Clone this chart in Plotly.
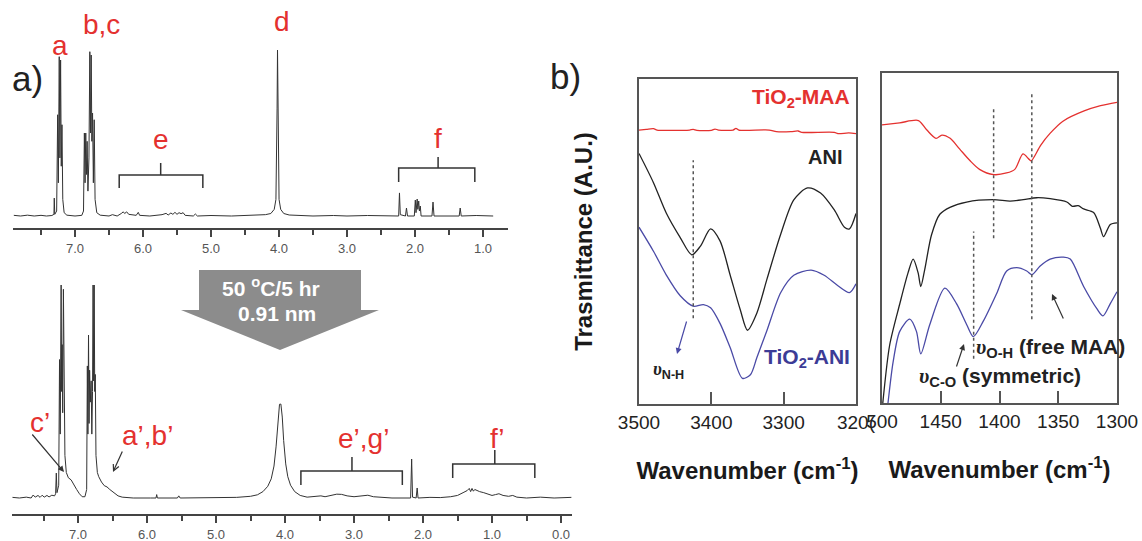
import plotly.graph_objects as go

W, H = 1142, 541
def fx(p): return p / W
def fy(p): return 1 - p / H

FONT = "Arial, Liberation Sans, sans-serif"
RED = "#e4312f"
BLUE = "#4a4aa6"
BLACK = "#222222"
UPS = "<span style=\"font-family:'Liberation Serif', 'DejaVu Serif', serif\"><i>υ</i></span>"

# ---------------- data: 1H NMR (top, before) ----------------
nmr_top_ppm = [7.90, 7.80, 7.70, 7.60, 7.50, 7.42, 7.34, 7.31, 7.305, 7.298, 7.27, 7.255, 7.245, 7.232, 7.222,
               7.212, 7.202, 7.192, 7.18, 7.16, 7.12, 7.00, 6.90,
               6.875, 6.862, 6.852, 6.842, 6.832, 6.822, 6.81, 6.795, 6.782, 6.772, 6.762, 6.752, 6.742, 6.73,
               6.718, 6.705, 6.68, 6.63,
               6.50, 6.45, 6.38, 6.32, 6.29, 6.27, 6.24, 6.21, 6.10, 6.07, 6.05, 5.90, 5.72, 5.66, 5.63, 5.59,
               5.56, 5.53, 5.50, 5.47, 5.44, 5.41, 5.38, 5.26, 5.23, 5.20, 5.00, 4.70, 4.40, 4.20, 4.12, 4.07,
               4.045, 4.035, 4.028, 4.022, 4.016, 4.009, 3.999, 3.975, 3.93, 3.85, 3.70, 3.50, 3.20, 3.00, 2.70,
               2.50, 2.35, 2.24, 2.228, 2.216, 2.14, 2.125, 2.11, 2.01, 1.995, 1.985, 1.968, 1.958, 1.945, 1.935,
               1.922, 1.91, 1.75, 1.735, 1.72, 1.35, 1.335, 1.32, 1.10, 0.85]
nmr_top_int = [0.004, 0.0, 0.005, 0.0, 0.004, 0.0, 0.003, 0.01, 0.108, 0.01, 0.03, 0.61, 0.2, 0.96, 0.35,
               0.94, 0.3, 0.55, 0.1, 0.02, 0.005, 0.0, 0.004,
               0.03, 0.5, 0.2, 0.5, 0.25, 0.45, 0.15, 0.35, 0.99, 0.5, 0.97, 0.45, 0.62, 0.2,
               0.58, 0.1, 0.02, 0.005,
               0.0, 0.008, 0.0, 0.015, 0.025, 0.015, 0.025, 0.01, 0.004, 0.022, 0.004, 0.0, 0.008, 0.016, 0.006, 0.018,
               0.01, 0.022, 0.01, 0.02, 0.014, 0.02, 0.004, 0.0, 0.012, 0.0, 0.003, 0.0, 0.005, 0.008, 0.015, 0.04,
               0.1, 0.3, 0.65, 1.0, 0.65, 0.3, 0.1, 0.04, 0.015, 0.006, 0.002, 0.0, 0.003, 0.0, 0.003,
               0.0, 0.002, 0.0, 0.139, 0.008, 0.0, 0.048, 0.0, 0.0, 0.096, 0.02, 0.102, 0.04, 0.09, 0.03,
               0.06, 0.0, 0.0, 0.084, 0.0, 0.0, 0.048, 0.0, 0.003, 0.0]

# ---------------- data: 1H NMR (bottom, after 50 C / 5 hr) ----------------
nmr_bot_ppm = [7.95, 7.85, 7.75, 7.68, 7.65, 7.62, 7.58, 7.55, 7.52, 7.49, 7.45, 7.42, 7.38, 7.34, 7.325, 7.315,
               7.305, 7.28, 7.268, 7.258, 7.245, 7.238, 7.23, 7.222, 7.212, 7.202, 7.19, 7.17, 7.14, 7.10, 7.06,
               7.02, 6.98, 6.94, 6.90, 6.875, 6.865, 6.857, 6.848, 6.84, 6.832, 6.822, 6.81, 6.80, 6.79, 6.782,
               6.774, 6.766, 6.758, 6.75, 6.74, 6.72, 6.70, 6.66, 6.62, 6.58, 6.54, 6.48, 6.42, 6.36, 6.20, 5.95,
               5.87, 5.86, 5.85, 5.56, 5.54, 5.52, 5.00, 4.70, 4.50, 4.40, 4.32, 4.25, 4.20, 4.16, 4.13, 4.10,
               4.08, 4.06, 4.04, 4.02, 3.99, 3.96, 3.92, 3.86, 3.78, 3.68, 3.55, 3.48, 3.42, 3.35, 3.25, 3.18,
               3.10, 3.00, 2.90, 2.80, 2.72, 2.60, 2.45, 2.18, 2.165, 2.152, 2.10, 2.085, 2.072, 1.90, 1.75, 1.60,
               1.50, 1.42, 1.36, 1.33, 1.31, 1.29, 1.27, 1.25, 1.22, 1.18, 1.12, 1.05, 1.00, 0.95, 0.90, 0.84,
               0.76, 0.70, 0.64, 0.50, 0.30, 0.10, -0.15]
nmr_bot_int = [0.003, 0.0, 0.004, 0.0, 0.014, 0.004, 0.012, 0.003, 0.013, 0.004, 0.012, 0.005, 0.013, 0.01, 0.02, 0.117,
               0.025, 0.06, 0.65, 0.3, 1.0, 0.5, 0.72, 0.4, 0.98, 0.35, 0.2, 0.12, 0.095, 0.085, 0.06,
               0.04, 0.02, 0.006, 0.006, 0.04, 0.62, 0.3, 0.765, 0.35, 0.6, 0.45, 0.55, 0.3, 0.5, 1.0,
               0.55, 1.0, 0.5, 0.58, 0.2, 0.12, 0.1, 0.075, 0.058, 0.052, 0.04, 0.023, 0.01, 0.004, 0.0, 0.0,
               0.0, 0.016, 0.0, 0.0, 0.01, 0.0, 0.0, 0.003, 0.008, 0.015, 0.03, 0.055, 0.09, 0.15, 0.24, 0.36,
               0.44, 0.441, 0.38, 0.27, 0.16, 0.1, 0.06, 0.03, 0.012, 0.004, 0.006, 0.01, 0.006, 0.01, 0.018, 0.017,
               0.01, 0.006, 0.01, 0.013, 0.006, 0.004, 0.0, 0.0, 0.183, 0.004, 0.0, 0.047, 0.0, 0.003, 0.002, 0.006,
               0.012, 0.025, 0.035, 0.045, 0.03, 0.045, 0.032, 0.04, 0.035, 0.03, 0.025, 0.018, 0.012, 0.016, 0.02, 0.012,
               0.008, 0.012, 0.004, 0.0, 0.004, 0.0, 0.003]

# ---------------- data: FTIR, N-H region ----------------
ir_nh_wn_maa = [3500, 3490, 3480, 3475, 3460, 3440, 3430, 3425, 3420, 3400, 3395, 3390, 3370, 3366, 3362,
                3320, 3310, 3290, 3280, 3275, 3230, 3225, 3210, 3200]
ir_nh_maa = [0.843, 0.845, 0.847, 0.843, 0.842, 0.842, 0.843, 0.845, 0.842, 0.842, 0.846, 0.843, 0.843, 0.848, 0.843,
             0.843, 0.838, 0.838, 0.840, 0.836, 0.836, 0.832, 0.834, 0.832]
ir_nh_wn = [3500, 3480, 3462, 3443, 3427, 3415, 3401, 3388, 3374, 3360, 3350, 3337, 3323, 3304, 3286, 3267,
            3249, 3230, 3216, 3209, 3200]
ir_nh_ani = [0.771, 0.681, 0.586, 0.512, 0.459, 0.486, 0.539, 0.502, 0.397, 0.290, 0.227, 0.280, 0.385, 0.523,
             0.628, 0.665, 0.649, 0.597, 0.544, 0.539, 0.586]
ir_nh_wn_tiani = [3500, 3480, 3462, 3443, 3425, 3411, 3401, 3388, 3374, 3357, 3346, 3337, 3323, 3304, 3286, 3262,
                  3244, 3225, 3209, 3200]
ir_nh_tiani = [0.544, 0.470, 0.396, 0.333, 0.301, 0.306, 0.296, 0.248, 0.174, 0.079, 0.090, 0.143, 0.227, 0.343,
               0.396, 0.412, 0.396, 0.364, 0.343, 0.370]

# ---------------- data: FTIR, C-O / O-H region ----------------
ir_co_wn_maa = [1500, 1485, 1469, 1462, 1454, 1449, 1442, 1434, 1425, 1417, 1405, 1394, 1387, 1380, 1375, 1373,
                1365, 1357, 1346, 1328, 1314, 1300]
ir_co_maa = [0.843, 0.849, 0.856, 0.828, 0.802, 0.812, 0.802, 0.770, 0.734, 0.708, 0.692, 0.697, 0.708, 0.755,
             0.739, 0.734, 0.781, 0.817, 0.854, 0.885, 0.901, 0.911]
ir_co_wn_ani = [1500.5, 1499.1, 1493.5, 1484.9, 1477.8, 1473.5, 1469.3, 1467.0, 1463.6, 1457.9, 1450.8, 1442.2,
                1428.0, 1405.3, 1391.0, 1379.7, 1368.3, 1356.9, 1342.7, 1338.0, 1333.0, 1328.4, 1319.9, 1314.2,
                1311.4, 1305.7, 1300]
ir_co_ani = [-0.05, 0.008, 0.175, 0.300, 0.395, 0.436, 0.395, 0.353, 0.405, 0.509, 0.572, 0.593,
             0.609, 0.616, 0.612, 0.616, 0.622, 0.619, 0.609, 0.596, 0.598, 0.588, 0.577, 0.530,
             0.504, 0.541, 0.546]
ir_co_wn_tiani = [1496.5, 1494.9, 1490.6, 1484.9, 1476.4, 1470.7, 1467.0, 1459.3, 1446.5, 1436.6, 1428.0, 1422.3,
                  1413.8, 1402.4, 1393.9, 1385.3, 1376.8, 1372.5, 1365.4, 1356.9, 1345.5, 1339.8, 1328.4, 1317.0,
                  1311.9, 1305.7, 1300]
ir_co_tiani = [-0.05, 0.0, 0.123, 0.217, 0.254, 0.217, 0.149, 0.238, 0.348, 0.301, 0.238, 0.201,
               0.248, 0.332, 0.400, 0.410, 0.400, 0.389, 0.415, 0.436, 0.442, 0.436, 0.353, 0.285,
               0.264, 0.301, 0.337]

# guide (dotted) lines: wavenumber, y from, y to
nh_guides = [(3425, 0.264, 0.75)]
co_guides = [(1405, 0.499, 0.89), (1372.5, 0.254, 0.939), (1422, 0.134, 0.52)]

# braces on NMR: (ppm left, ppm right, ppm centre, y bar, y ends, y tip)
top_braces = [(6.35, 5.12, 5.74, 0.247, 0.169, 0.319), (2.24, 1.12, 1.66, 0.289, 0.205, 0.355)]
bot_braces = [(3.77, 2.30, 3.03, 0.127, 0.061, 0.192), (1.57, 0.38, 0.96, 0.160, 0.094, 0.225)]

fig = go.Figure()

nmr_line = dict(color="#333333", width=1)
fig.add_trace(go.Scatter(x=nmr_top_ppm, y=nmr_top_int, mode="lines", line=nmr_line, xaxis="x", yaxis="y"))
fig.add_trace(go.Scatter(x=nmr_bot_ppm, y=nmr_bot_int, mode="lines", line=nmr_line, xaxis="x2", yaxis="y2"))

sp = dict(shape="spline", smoothing=0.8, width=1.3)
fig.add_trace(go.Scatter(x=ir_nh_wn_maa, y=ir_nh_maa, mode="lines", line=dict(color=RED, **sp), xaxis="x3", yaxis="y3"))
fig.add_trace(go.Scatter(x=ir_nh_wn, y=ir_nh_ani, mode="lines", line=dict(color=BLACK, **sp), xaxis="x3", yaxis="y3"))
fig.add_trace(go.Scatter(x=ir_nh_wn_tiani, y=ir_nh_tiani, mode="lines", line=dict(color=BLUE, **sp), xaxis="x3", yaxis="y3"))
fig.add_trace(go.Scatter(x=ir_co_wn_maa, y=ir_co_maa, mode="lines", line=dict(color=RED, **sp), xaxis="x4", yaxis="y4"))
fig.add_trace(go.Scatter(x=ir_co_wn_ani, y=ir_co_ani, mode="lines", line=dict(color=BLACK, **sp), xaxis="x4", yaxis="y4"))
fig.add_trace(go.Scatter(x=ir_co_wn_tiani, y=ir_co_tiani, mode="lines", line=dict(color=BLUE, **sp), xaxis="x4", yaxis="y4"))

nmr_x = dict(showline=True, linecolor="#444", linewidth=2, ticks="outside", ticklen=7, tickwidth=1.5,
             tickcolor="#444", dtick=1, tick0=0, tickformat=".1f", automargin=False, ticklabelstandoff=0,
             minor=dict(dtick=0.5, tick0=0, ticks="outside", ticklen=5, tickwidth=1.5, tickcolor="#444"),
             tickfont=dict(family=FONT, size=13, color="#555"), showgrid=False, zeroline=False)
ir_x = dict(showline=True, mirror=True, linecolor="#555", linewidth=1.5, ticks="inside", ticklen=12,
            tickwidth=1.5, tickcolor="#555", tickfont=dict(family=FONT, size=19, color="#222"),
            showgrid=False, zeroline=False, automargin=False, ticklabelstandoff=0,
            title=dict(text="Wavenumber (cm<sup>-1</sup>)", standoff=31,
                       font=dict(family=FONT, size=24, color="#1a1a1a", weight="bold")))
ir_y = dict(showline=True, mirror=True, linecolor="#555", linewidth=1.5, ticks="", showticklabels=False,
            showgrid=False, zeroline=False, range=[0, 1], automargin=False)

fig.update_layout(
    width=W, height=H, margin=dict(l=0, r=0, t=0, b=0, autoexpand=False), paper_bgcolor="white",
    plot_bgcolor="rgba(0,0,0,0)", showlegend=False, font=dict(family=FONT),
    xaxis=dict(domain=[fx(13), fx(508)], range=[7.912, 0.632], anchor="y", **nmr_x),
    yaxis=dict(domain=[fy(228), fy(20)], range=[-0.0723, 1.181], visible=False, anchor="x", automargin=False),
    xaxis2=dict(domain=[fx(12), fx(572)], range=[7.957, -0.159], anchor="y2", **nmr_x),
    yaxis2=dict(domain=[fy(514), fy(270)], range=[-0.0751, 1.0704], visible=False, anchor="x2", automargin=False),
    xaxis3=dict(domain=[fx(639), fx(856)], range=[3500, 3200], anchor="y3",
                tickvals=[3500, 3400, 3300, 3200], ticktext=["3500", "3400", "3300", "320("], **ir_x),
    yaxis3=dict(domain=[fy(404), fy(79)], anchor="x3", **ir_y,
                title=dict(text="Trasmittance (A.U.)", standoff=38,
                           font=dict(family=FONT, size=24, color="#1a1a1a", weight="bold"))),
    xaxis4=dict(domain=[fx(882), fx(1117)], range=[1500, 1300], anchor="y4",
                tickvals=[1500, 1450, 1400, 1350, 1300], ticktext=["500", "1450", "1400", "1350", "1300"], **ir_x),
    yaxis4=dict(domain=[fy(403), fy(73)], anchor="x4", **ir_y),
)

shapes = []
for (xa, xb, xc, yb, ye, yt), xr, yr in [(b, "x", "y") for b in top_braces] + [(b, "x2", "y2") for b in bot_braces]:
    shapes.append(dict(type="path", xref=xr, yref=yr,
                       path=f"M {xa},{ye} L {xa},{yb} L {xc},{yb} L {xc},{yt} M {xc},{yb} L {xb},{yb} L {xb},{ye}",
                       line=dict(color="#333", width=1.5)))
for wn, y0, y1 in nh_guides:
    shapes.append(dict(type="line", xref="x3", yref="y3", x0=wn, x1=wn, y0=y0, y1=y1,
                       line=dict(color="#555", width=1.5, dash="dot")))
for wn, y0, y1 in co_guides:
    shapes.append(dict(type="line", xref="x4", yref="y4", x0=wn, x1=wn, y0=y0, y1=y1,
                       line=dict(color="#555", width=1.5, dash="dot")))
# big grey arrow
arrow_pts = [(199, 270), (361, 270), (361, 310), (379, 310), (280, 350), (181, 310), (199, 310)]
path = "M " + " L ".join(f"{fx(a):.5f},{fy(b):.5f}" for a, b in arrow_pts) + " Z"
shapes.append(dict(type="path", xref="paper", yref="paper", path=path, fillcolor="#8c8c8c",
                   line=dict(width=0)))
fig.update_layout(shapes=shapes)

ann = []
def label(text, x, y, size, color, weight="normal", xanchor="center"):
    ann.append(dict(text=text, x=fx(x), y=fy(y), xref="paper", yref="paper", showarrow=False,
                    xanchor=xanchor, yanchor="middle",
                    font=dict(family=FONT, size=size, color=color, weight=weight)))

label("a)", 27, 78, 35, "#222")
label("b)", 565, 76, 35, "#222")
for t, x, y in [("a", 60, 46), ("b,c", 102, 24), ("d", 282, 22), ("e", 161, 140), ("f", 438, 138),
                ("c’", 40, 422), ("a’,b’", 147, 435), ("e’,g’", 363, 438), ("f’", 497, 438)]:
    label(t, x, y, 28, RED)
label("50 <sup>o</sup>C/5 hr", 271, 287, 21, "white", "bold")
label("0.91 nm", 277, 313, 21, "white", "bold")
label("TiO<sub>2</sub>-MAA", 852, 98, 21, RED, "bold", "right")
label("ANI", 825, 157, 20, BLACK, "bold")
label("TiO<sub>2</sub>-ANI", 852, 358, 21, "#3c3c96", "bold", "right")
label(UPS + "<sub>N-H</sub>", 651, 370, 18, "#222", "bold", "left")
label(UPS + "<sub>O-H</sub> (free MAA)", 974, 348, 21, "#222", "bold", "left")
label(UPS + "<sub>C-O</sub> (symmetric)", 917, 377, 21, "#222", "bold", "left")

def arrow(x, y, x0, y0, color, head):
    ann.append(dict(text="", x=fx(x), y=fy(y), ax=x0 - x, ay=y0 - y, xref="paper", yref="paper",
                    axref="pixel", ayref="pixel", showarrow=True, arrowhead=head, arrowsize=1,
                    arrowwidth=1.2, arrowcolor=color))

arrow(64, 472, 31, 433, "#333", 2)
arrow(113, 472, 123, 450, "#333", 5)
arrow(677, 354, 687, 320, BLUE, 2)
arrow(964, 344, 956, 368, "#333", 2)
arrow(1052, 294, 1064, 320, "#333", 2)
fig.update_layout(annotations=ann)

fig.write_html("out.html", config={"displayModeBar": False},
               post_script="document.body.style.margin='0px';document.body.style.overflow='hidden';")
